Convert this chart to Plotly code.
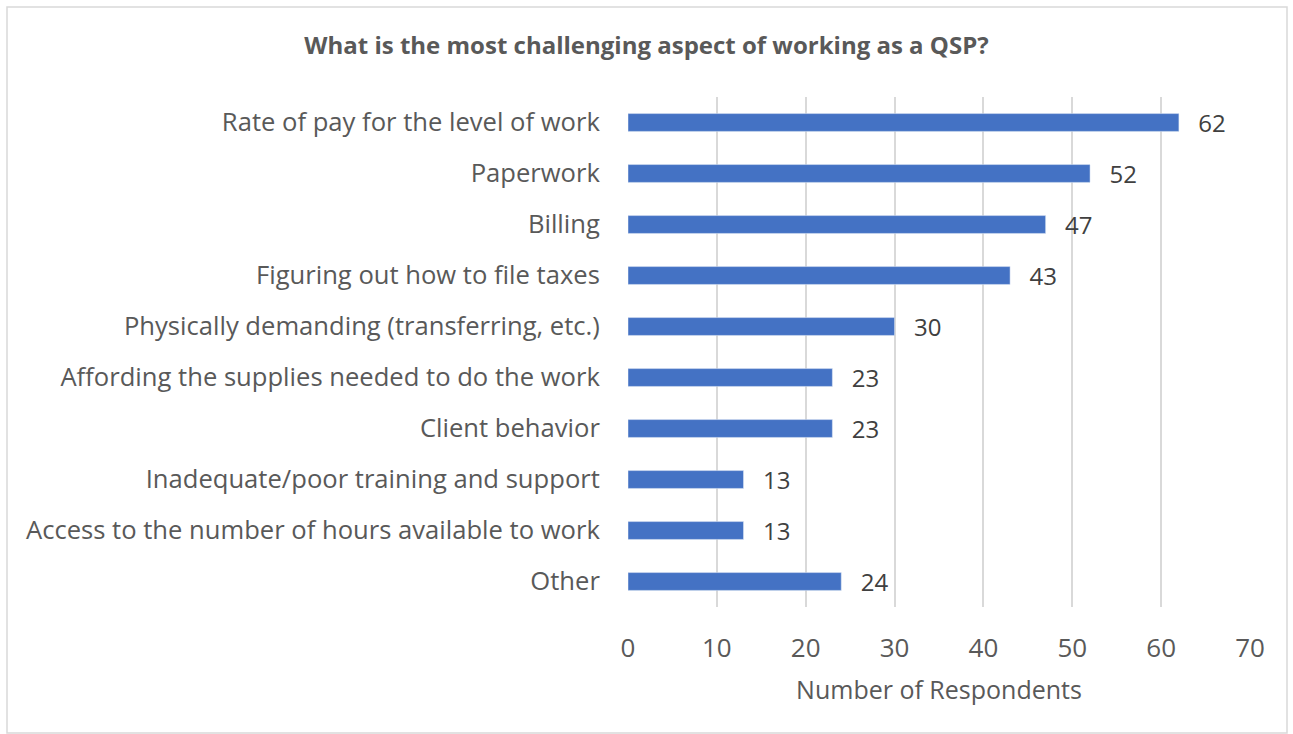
import plotly.graph_objects as go

# --- Data ---
categories = [
    "Rate of pay for the level of work",
    "Paperwork",
    "Billing",
    "Figuring out how to file taxes",
    "Physically demanding (transferring, etc.)",
    "Affording the supplies needed to do the work",
    "Client behavior",
    "Inadequate/poor training and support",
    "Access to the number of hours available to work",
    "Other",
]
respondents = [62, 52, 47, 43, 30, 23, 23, 13, 13, 24]
x_ticks = [0, 10, 20, 30, 40, 50, 60, 70]

W, H = 1293, 734
L, R, T, B = 628, 43, 97, 127
pw, ph = W - L - R, H - T - B

def px_x(p):
    return (p - L) / pw

def px_y(p):
    return (H - B - p) / ph

FONT = "Open Sans, Lato, sans-serif"

fig = go.Figure(go.Bar(
    y=categories,
    x=respondents,
    orientation="h",
    marker_color="#4472C4",
    texttemplate="\u00a0\u00a0\u2009%{x}",
    textposition="outside",
    constraintext="none",
    textfont=dict(size=24, color="#404040", family=FONT),
    cliponaxis=False,
))

fig.update_layout(
    width=W, height=H,
    margin=dict(l=L, r=R, t=T, b=B),
    paper_bgcolor="white",
    plot_bgcolor="white",
    font=dict(family=FONT, color="#595959"),
    bargap=0.65,
    showlegend=False,
    title=dict(
        text="<b>What is the most challenging aspect of working as a QSP?</b>",
        x=0.5, xanchor="center", y=1 - 46 / H, yanchor="middle",
        font=dict(size=24, color="#595959", family=FONT),
    ),
    xaxis=dict(
        range=[0, 70], tickvals=x_ticks,
        showgrid=True, gridcolor="#D9D9D9", gridwidth=1.5,
        zeroline=False, showline=False,
        tickfont=dict(size=26, color="#595959"),
        ticks="outside", ticklen=18, tickcolor="rgba(0,0,0,0)",
        title=dict(text="Number of Respondents", font=dict(size=25, color="#595959"), standoff=17),
    ),
    yaxis=dict(
        autorange="reversed",
        showgrid=False, zeroline=False, showline=False,
        tickfont=dict(size=25.6, color="#595959"),
        ticks="outside", ticklen=22, tickcolor="rgba(0,0,0,0)",
    ),
    shapes=[dict(
        type="rect", xref="paper", yref="paper",
        x0=px_x(7), x1=px_x(1287), y0=px_y(733), y1=px_y(7),
        line=dict(color="#D9D9D9", width=1.5), fillcolor="rgba(0,0,0,0)",
        layer="below",
    )],
)

fig.write_html("out.html", config={"displayModeBar": False},
               post_script="document.body.style.margin='0';")
